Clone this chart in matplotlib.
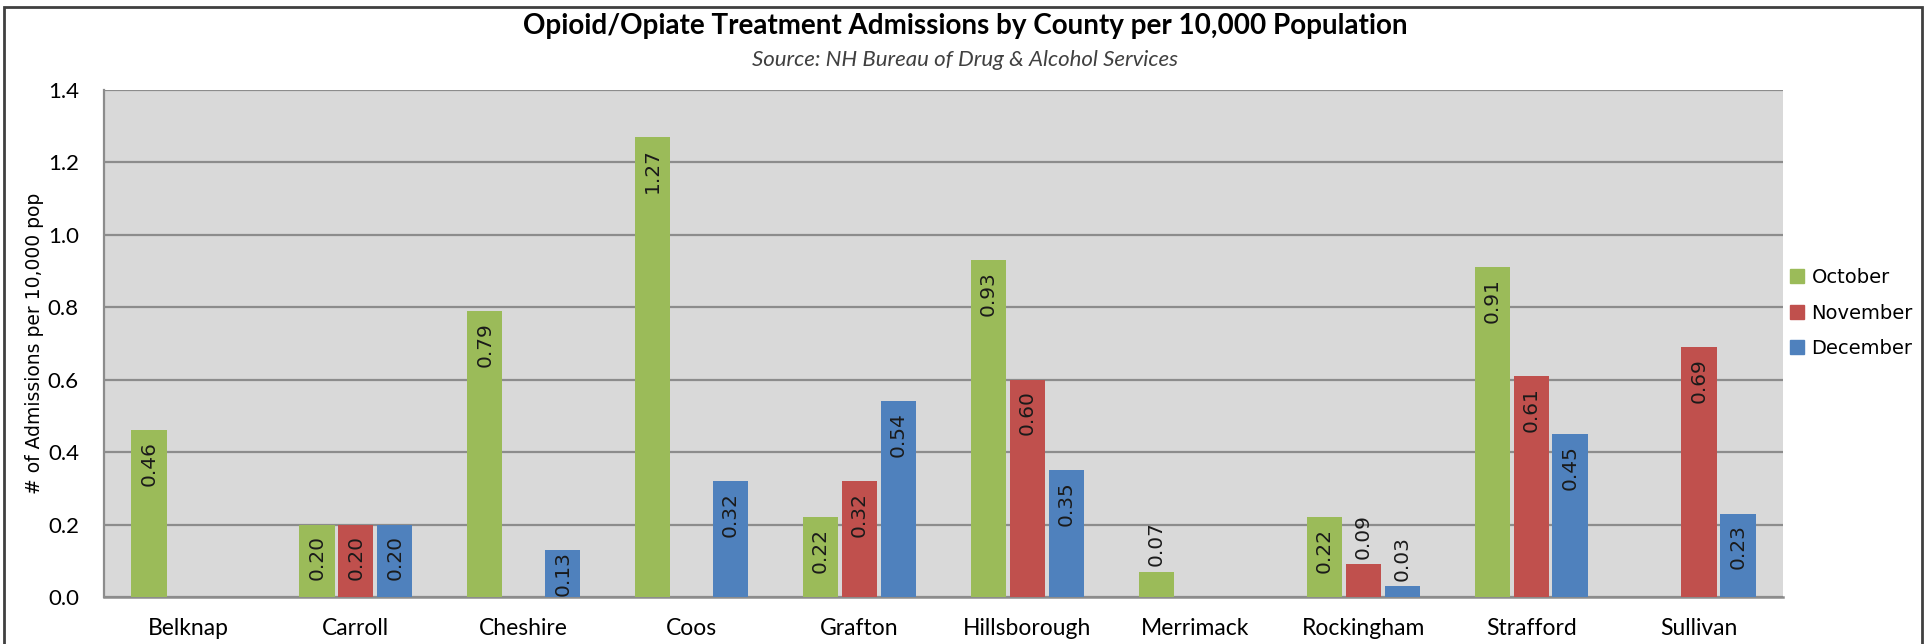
"""Opioid/opiate treatment admissions by county, grouped bars."""

import numpy as np
import matplotlib
import matplotlib.pyplot as plt
from matplotlib.patches import Rectangle, Patch

matplotlib.use("Agg")

counties = ["Belknap", "Carroll", "Cheshire", "Coos", "Grafton",
            "Hillsborough", "Merrimack", "Rockingham", "Strafford", "Sullivan"]
months = ["October", "November", "December"]
october = [0.46, 0.20, 0.79, 1.27, 0.22, 0.93, 0.07, 0.22, 0.91, 0.0]
november = [0.0, 0.20, 0.0, 0.0, 0.32, 0.60, 0.0, 0.09, 0.61, 0.69]
december = [0.0, 0.20, 0.13, 0.32, 0.54, 0.35, 0.0, 0.03, 0.45, 0.23]
colors = ["#9bbb59", "#c0504d", "#4f81bd"]
yticks = [0.0, 0.2, 0.4, 0.6, 0.8, 1.0, 1.2, 1.4]

W, H, DPI = 1931, 644, 100
fig = plt.figure(figsize=(W / DPI, H / DPI), dpi=DPI)
fig.patch.set_facecolor("white")

left, right, top, bottom = 104, 1783, 90, 597
ax = fig.add_axes([left / W, 1 - bottom / H, (right - left) / W, (bottom - top) / H])
ax.set_facecolor("#d9d9d9")

x = np.arange(len(counties))
bar_w = 0.21
step = 0.232
series = [october, november, december]
for k, (vals, col) in enumerate(zip(series, colors)):
    pos = x + (k - 1) * step
    ax.bar(pos, vals, width=bar_w, color=col, zorder=3, label=months[k])
    for px, v in zip(pos, vals):
        if v <= 0:
            continue
        # small bars get their label above the bar, the rest inside the top
        if v >= 0.12:
            gap = max(0.004, min(0.03, v - 0.128))
            ax.text(px, v - gap, f"{v:.2f}", rotation=90, ha="center", va="top",
                    fontsize=14.5, family="DejaVu Sans", color="#1a1a1a", zorder=4)
        else:
            ax.text(px, v + 0.015, f"{v:.2f}", rotation=90, ha="center", va="bottom",
                    fontsize=14.5, family="DejaVu Sans", color="#1a1a1a", zorder=4)

ax.set_xlim(-0.5, len(counties) - 0.5)
ax.set_ylim(0, 1.4)
ax.set_yticks(yticks)
ax.set_yticklabels([f"{t:.1f}" for t in yticks], family="Lato", fontsize=16)
ax.set_xticks(x)
ax.set_xticklabels(counties, family="Lato", fontsize=16.5)
ax.tick_params(axis="y", length=0, pad=18)
ax.tick_params(axis="x", length=0, pad=15)
ax.grid(axis="y", color="#8c8c8c", linewidth=1.6, zorder=1)
for s in ["top", "right"]:
    ax.spines[s].set_visible(False)
ax.spines["left"].set_color("#8c8c8c")
ax.spines["bottom"].set_color("#8c8c8c")
ax.spines["left"].set_linewidth(1.6)
ax.spines["bottom"].set_linewidth(1.8)
ax.set_ylabel("# of Admissions per 10,000 pop", family="DejaVu Sans", fontsize=13.5,
              labelpad=3)

handles = [Patch(color=c, label=m) for c, m in zip(colors, months)]
fig.legend(handles=handles, loc="upper left", bbox_to_anchor=(1790 / W, 1 - 268 / H),
           frameon=False, prop={"family": "DejaVu Sans", "size": 14}, borderpad=0,
           borderaxespad=0, handlelength=0.7, handleheight=0.7, handletextpad=0.4,
           labelspacing=0.85)

fig.text(0.5, 1 - 26 / H, "Opioid/Opiate Treatment Admissions by County per 10,000 Population",
         ha="center", va="center", family="Lato", weight="bold", fontsize=20)
fig.text(0.5, 1 - 60 / H, "Source: NH Bureau of Drug & Alcohol Services",
         ha="center", va="center", family="Lato", style="italic", fontsize=16, color="#404040")

# outer chart border
fig.add_artist(Rectangle((4 / W, -0.05), (1922 - 4) / W, 1.05 - 7 / H,
                         transform=fig.transFigure, fill=False, edgecolor="#404040",
                         linewidth=2))

fig.savefig("out.png", dpi=DPI, facecolor="white")
plt.close(fig)
